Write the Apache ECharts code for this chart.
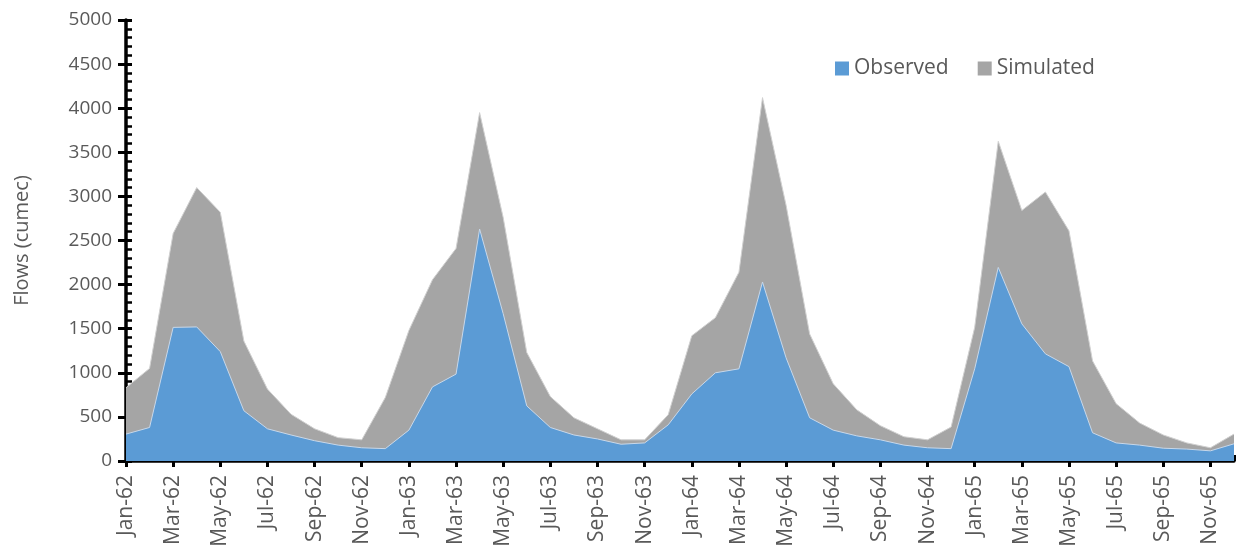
<!DOCTYPE html>
<html>
<head>
<meta charset="utf-8">
<script src="https://cdn.jsdelivr.net/npm/echarts@6/dist/echarts.min.js"></script>
<style>
    html, body { margin: 0; padding: 0; background: #fff; }
    #chart { width: 1239px; height: 550px; }
</style>
</head>
<body>
<div id="chart"></div>
<script>
    // months Jan-62 .. Dec-65
    var months = [
        'Jan-62', 'Feb-62', 'Mar-62', 'Apr-62', 'May-62', 'Jun-62', 'Jul-62', 'Aug-62', 'Sep-62', 'Oct-62', 'Nov-62', 'Dec-62',
        'Jan-63', 'Feb-63', 'Mar-63', 'Apr-63', 'May-63', 'Jun-63', 'Jul-63', 'Aug-63', 'Sep-63', 'Oct-63', 'Nov-63', 'Dec-63',
        'Jan-64', 'Feb-64', 'Mar-64', 'Apr-64', 'May-64', 'Jun-64', 'Jul-64', 'Aug-64', 'Sep-64', 'Oct-64', 'Nov-64', 'Dec-64',
        'Jan-65', 'Feb-65', 'Mar-65', 'Apr-65', 'May-65', 'Jun-65', 'Jul-65', 'Aug-65', 'Sep-65', 'Oct-65', 'Nov-65', 'Dec-65'
    ]
    var observed = [
        305, 380, 1515, 1520, 1240, 570, 365, 295, 230, 180, 150, 140,
        350, 840, 985, 2630, 1670, 625, 380, 295, 250, 190, 205, 410,
        760, 1000, 1045, 2030, 1170, 490, 350, 285, 240, 180, 150, 140,
        1045, 2195, 1555, 1215, 1070, 320, 205, 180, 145, 135, 115, 195
    ]
    var simulated = [
        830, 1050, 2580, 3100, 2820, 1360, 815, 530, 365, 265, 240, 720,
        1480, 2055, 2410, 3950, 2760, 1230, 730, 490, 365, 240, 240, 525,
        1420, 1625, 2140, 4120, 2900, 1440, 875, 580, 400, 275, 240, 385,
        1515, 3625, 2840, 3050, 2610, 1135, 650, 430, 295, 205, 150, 305
    ]

    var font = 'Open Sans'
    var textColor = '#595959'
    var chart = echarts.init(document.getElementById('chart'))

    chart.setOption({
        animation: false,
        textStyle: { fontFamily: font },
        grid: { left: 126, right: 5, top: 20, bottom: 89, containLabel: false },
        legend: {
            data: ['Observed', 'Simulated'],
            left: 830,
            top: 53,
            itemWidth: 14,
            itemHeight: 14,
            itemGap: 29,
            icon: 'rect',
            textStyle: { fontFamily: font, fontSize: 21, color: textColor }
        },
        xAxis: [
            {
                type: 'category',
                position: 'bottom',
                data: months,
                boundaryGap: false,
                axisLine: { lineStyle: { color: '#000', width: 3.5 } },
                axisTick: { inside: true, interval: 0, length: 6, lineStyle: { color: '#000', width: 3 } },
                axisLabel: { interval: 1, rotate: 90, margin: 14, fontFamily: font, fontSize: 21, color: textColor },
                splitLine: { show: false }
            },
            {
                type: 'category',
                position: 'bottom',
                data: months,
                boundaryGap: false,
                axisLine: { show: false },
                axisTick: { inside: false, interval: 1, length: 6, lineStyle: { color: '#000', width: 3 } },
                axisLabel: { show: false },
                splitLine: { show: false }
            }
        ],
        yAxis: [
            {
                type: 'value',
                position: 'left',
                min: 0,
                max: 5000,
                interval: 500,
                name: 'Flows (cumec)',
                nameLocation: 'middle',
                nameGap: 94,
                nameTextStyle: { fontFamily: font, fontSize: 20, color: textColor },
                axisLine: { show: true, lineStyle: { color: '#000', width: 3.5 } },
                axisTick: { show: true, inside: true, length: 6, lineStyle: { color: '#000', width: 3 } },
                minorTick: { show: true, splitNumber: 5, length: 6, lineStyle: { color: '#000', width: 2.5 } },
                axisLabel: {
                    margin: 14,
                    fontFamily: font,
                    fontSize: 19,
                    color: textColor,
                    formatter: function (v) { return String(v) }
                },
                splitLine: { show: false }
            },
            {
                type: 'value',
                position: 'left',
                min: 0,
                max: 5000,
                interval: 500,
                axisLine: { show: false },
                axisTick: { show: true, inside: false, length: 8, lineStyle: { color: '#000', width: 3 } },
                axisLabel: { show: false },
                splitLine: { show: false }
            }
        ],
        series: [
            {
                name: 'Simulated',
                type: 'line',
                data: simulated,
                symbol: 'none',
                itemStyle: { color: '#A5A5A5' },
                lineStyle: { width: 1, color: '#d0d0d0' },
                areaStyle: { color: '#A5A5A5', opacity: 1 },
                z: 1
            },
            {
                name: 'Observed',
                type: 'line',
                data: observed,
                symbol: 'none',
                itemStyle: { color: '#5B9BD5' },
                lineStyle: { width: 1, color: '#c8d8ea' },
                areaStyle: { color: '#5B9BD5', opacity: 1 },
                z: 2
            }
        ]
    })
</script>
</body>
</html>
